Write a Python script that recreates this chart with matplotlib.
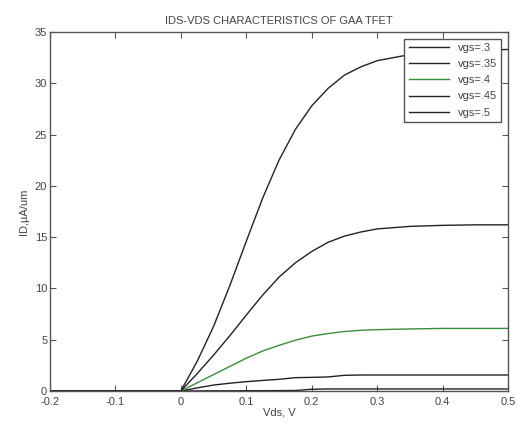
import matplotlib
matplotlib.use("Agg")
import matplotlib.pyplot as plt

plt.rcParams['font.family'] = ['Liberation Sans', 'DejaVu Sans']

vds = [-0.2, 0.0, 0.025, 0.05, 0.075, 0.1, 0.125, 0.15, 0.175, 0.2, 0.225,
       0.25, 0.275, 0.3, 0.35, 0.4, 0.45, 0.5]

id_vgs30 = [0.0, 0.0, 0.01, 0.02, 0.02, 0.03, 0.03, 0.04, 0.05, 0.17, 0.2,
            0.2, 0.2, 0.2, 0.2, 0.2, 0.2, 0.2]
id_vgs35 = [0.0, 0.0, 0.3, 0.58, 0.76, 0.91, 1.03, 1.14, 1.3, 1.33, 1.37,
            1.53, 1.56, 1.56, 1.56, 1.56, 1.56, 1.56]
id_vgs40 = [0.0, 0.0, 0.8, 1.6, 2.4, 3.2, 3.9, 4.45, 4.95, 5.35, 5.6,
            5.8, 5.92, 5.98, 6.05, 6.1, 6.1, 6.1]
id_vgs45 = [0.0, 0.0, 1.7, 3.5, 5.4, 7.4, 9.35, 11.1, 12.5, 13.6, 14.5,
            15.1, 15.5, 15.8, 16.05, 16.15, 16.2, 16.2]
id_vgs50 = [0.0, 0.0, 2.9, 6.3, 10.3, 14.6, 18.8, 22.5, 25.5, 27.8, 29.5,
            30.8, 31.6, 32.2, 32.8, 33.1, 33.2, 33.3]

labels = ['vgs=.3', 'vgs=.35', 'vgs=.4', 'vgs=.45', 'vgs=.5']
series = [id_vgs30, id_vgs35, id_vgs40, id_vgs45, id_vgs50]
colors = ['#222222', '#222222', '#3c8c3c', '#222222', '#222222']

xticks = [-0.2, -0.1, 0, 0.1, 0.2, 0.3, 0.4, 0.5]
xticklabels = ['-0.2', '-0.1', '0', '0.1', '0.2', '0.3', '0.4', '0.5']
yticks = [0, 5, 10, 15, 20, 25, 30, 35]

fig = plt.figure(figsize=(5.17, 4.33), dpi=100)
ax = fig.add_axes([50/517, 42/433, 458/517, 359/433])

for y, lab, c in zip(series, labels, colors):
    ax.plot(vds, y, color=c, lw=1.0, label=lab)

ax.set_xlim(-0.2, 0.5)
ax.set_ylim(0, 35)
ax.set_xticks(xticks)
ax.set_xticklabels(xticklabels)
ax.set_yticks(yticks)

tc = '#444444'
ax.tick_params(direction='in', top=True, right=True, length=4, width=0.8,
               colors='#555555', labelcolor=tc, labelsize=8)
ax.tick_params(axis='x', pad=4)
ax.tick_params(axis='y', pad=2)
for s in ax.spines.values():
    s.set_color('#555555')
    s.set_linewidth(1.0)

ax.set_title('IDS-VDS CHARACTERISTICS OF GAA TFET', fontsize=8, color=tc, pad=6)
ax.set_xlabel('Vds, V', fontsize=8, color=tc, labelpad=1)
ax.set_ylabel('ID,\u00b5A/um', fontsize=8, color=tc, labelpad=4)

leg = ax.legend(loc='upper right', fontsize=8, frameon=True, fancybox=False,
                framealpha=1, edgecolor='#555555', handlelength=3.6,
                borderaxespad=0.6, labelspacing=0.55)
for t in leg.get_texts():
    t.set_color(tc)

fig.savefig('out.png', dpi=100)
